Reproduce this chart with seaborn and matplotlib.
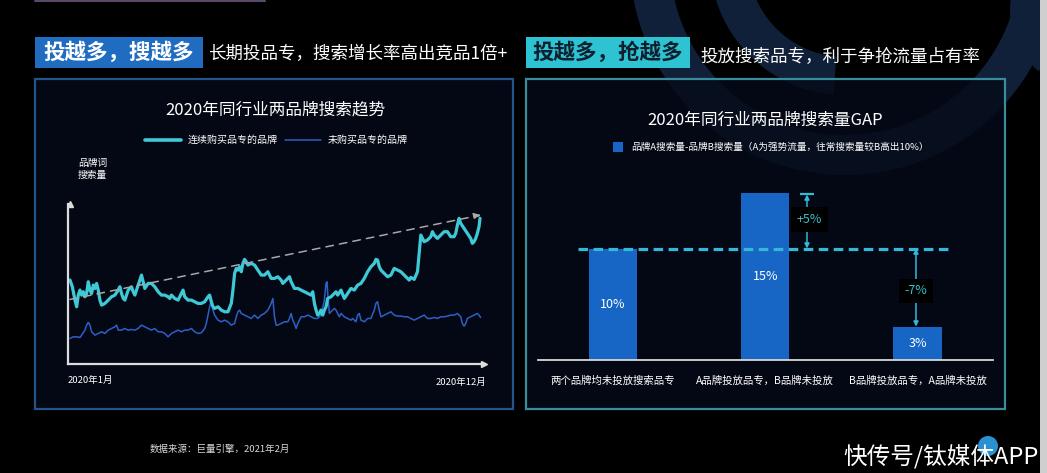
import matplotlib
matplotlib.use("Agg")
import matplotlib.pyplot as plt
from matplotlib.patches import Rectangle, Wedge, Circle
import pandas as pd
import seaborn as sns

sns.set_theme(style="dark")
plt.rcParams['font.family'] = ['Noto Sans CJK SC', 'DejaVu Sans']
plt.rcParams['axes.unicode_minus'] = False

W, H = 1047, 473

# ---------------- data ----------------
header_left_tag = "投越多，搜越多"
header_left_text = "长期投品专，搜索增长率高出竞品1倍+"
header_right_tag = "投越多，抢越多"
header_right_text = "投放搜索品专，利于争抢流量占有率"

line_title = "2020年同行业两品牌搜索趋势"
line_series_names = ["连续购买品专的品牌", "未购买品专的品牌"]
line_y_label = "品牌词\n搜索量"
line_x_labels = ["2020年1月", "2020年12月"]

# time (arbitrary units across 2020) and search volume (index)
cyan_t = [0, 7, 15, 20, 25, 30, 35, 40, 45, 50, 55, 60, 65, 70, 75, 80, 85, 90, 95, 105,
          115, 125, 135, 145, 150, 155, 160, 165, 170, 175, 185, 190, 195, 200, 205, 210, 215,
          220, 225, 235, 245, 255, 265, 275, 285, 295, 300, 305, 315, 325, 335, 340, 345, 355,
          365, 375, 385, 395, 405, 415, 420, 425, 430, 435, 445, 455, 465, 475, 485, 490, 495,
          500, 505, 510, 515, 520, 525, 530, 535, 545, 555, 565, 575, 585, 595, 605, 615, 625,
          635, 640, 645, 655, 660, 665, 675, 685, 695, 705, 715, 725, 730, 735, 740, 745, 750,
          755, 760, 765, 770, 775, 785, 795, 800, 805, 815, 825, 835, 845, 855, 865, 875, 885,
          895, 905, 915, 920, 925, 930, 935, 945, 955, 965, 975, 985, 995, 1005, 1015, 1020,
          1025, 1035, 1045, 1050, 1055, 1060, 1065, 1075, 1085, 1090, 1095, 1105, 1115, 1125,
          1135, 1145, 1155, 1160, 1165, 1170, 1175, 1185, 1195, 1205, 1210, 1215, 1220, 1225,
          1230, 1233]
cyan_v = [250, 230, 190, 170, 205, 220, 205, 215, 200, 210, 245, 220, 210, 235, 225, 240, 220,
          190, 175, 180, 190, 200, 205, 220, 230, 210, 195, 190, 205, 220, 230, 215, 205, 220,
          235, 250, 265, 245, 225, 240, 240, 230, 215, 205, 205, 200, 195, 205, 195, 190, 210,
          220, 200, 190, 190, 185, 180, 180, 185, 200, 205, 185, 170, 165, 170, 160, 155, 155,
          180, 220, 270, 285, 280, 290, 275, 300, 312, 305, 295, 300, 295, 280, 265, 265, 275,
          255, 255, 260, 250, 240, 245, 255, 260, 245, 225, 225, 220, 215, 210, 205, 215, 180,
          160, 145, 150, 160, 145, 160, 170, 195, 200, 210, 215, 205, 220, 195, 210, 225, 220,
          235, 240, 255, 275, 290, 300, 312, 310, 290, 280, 270, 260, 265, 285, 280, 275, 265,
          255, 250, 258, 252, 275, 330, 385, 375, 365, 370, 380, 395, 385, 375, 385, 395, 395,
          380, 380, 390, 415, 435, 420, 405, 390, 375, 360, 365, 375, 390, 410, 435]

blue_t = [0, 10, 20, 30, 35, 45, 50, 55, 60, 65, 75, 85, 95, 105, 115, 125, 135, 140, 145, 155,
          165, 175, 185, 195, 205, 215, 225, 235, 245, 255, 265, 275, 285, 295, 305, 315, 325,
          335, 345, 355, 365, 375, 385, 395, 405, 410, 415, 420, 425, 430, 435, 445, 455, 465,
          475, 485, 495, 500, 505, 510, 515, 525, 535, 545, 555, 565, 575, 585, 595, 605, 610,
          615, 620, 625, 635, 645, 655, 660, 665, 670, 675, 680, 685, 695, 705, 715, 725, 735,
          745, 755, 765, 770, 773, 775, 780, 785, 795, 800, 805, 810, 815, 825, 835, 845, 850,
          860, 865, 870, 875, 885, 895, 905, 915, 920, 925, 930, 935, 945, 955, 965, 975, 985,
          995, 1005, 1015, 1025, 1035, 1045, 1055, 1065, 1075, 1085, 1095, 1105, 1115, 1125,
          1135, 1145, 1155, 1165, 1175, 1180, 1185, 1190, 1195, 1205, 1215, 1225, 1230, 1235]
blue_v = [75, 80, 80, 78, 85, 100, 115, 123, 115, 95, 85, 90, 95, 90, 100, 105, 110, 115, 100,
          100, 105, 100, 102, 100, 105, 115, 110, 105, 100, 105, 95, 95, 90, 80, 90, 95, 100, 95,
          100, 100, 105, 95, 90, 92, 105, 120, 145, 170, 190, 160, 145, 130, 125, 130, 125, 115,
          120, 140, 155, 160, 150, 145, 140, 135, 145, 135, 145, 150, 160, 180, 195, 140, 115,
          115, 120, 125, 125, 135, 150, 130, 120, 105, 120, 140, 140, 145, 140, 135, 135, 145,
          190, 240, 245, 210, 150, 155, 165, 160, 150, 140, 150, 140, 135, 130, 135, 125, 145,
          150, 130, 125, 135, 135, 160, 180, 185, 160, 140, 145, 150, 155, 145, 142, 142, 140,
          140, 135, 130, 135, 140, 145, 135, 135, 138, 135, 140, 140, 142, 145, 145, 150, 140,
          120, 112, 120, 135, 140, 145, 150, 145, 138]

trend_t = [0, 1236]
trend_v = [192, 445]

bar_title = "2020年同行业两品牌搜索量GAP"
bar_legend = "品牌A搜索量-品牌B搜索量（A为强势流量，往常搜索量较B高出10%）"
bar_categories = ["两个品牌均未投放搜索品专", "A品牌投放品专，B品牌未投放", "B品牌投放品专，A品牌未投放"]
bar_values = [10, 15, 3]
bar_labels = ["10%", "15%", "3%"]
gap_labels = ["+5%", "-7%"]

footer_text = "数据来源：巨量引擎，2021年2月"
watermark = "快传号/钛媒体APP"

# ---------------- colors ----------------
BG = "#000000"
PANEL = (5 / 255, 11 / 255, 25 / 255, 0.82)
NAVY = "#102038"
C_CYAN = "#3ec9d6"
C_BLUE = "#2d5fc4"
C_BAR = "#1766c6"
C_DASH = "#35b7d5"

fig = plt.figure(figsize=(W / 100, H / 100), dpi=100, facecolor=BG)


def px_axes(l, t, r, b, z=1):
    a = fig.add_axes([l / W, 1 - b / H, (r - l) / W, (b - t) / H])
    a.set_zorder(z)
    return a


# background overlay (pixel coordinates)
bg = fig.add_axes([0, 0, 1, 1])
bg.set_zorder(0)
bg.set_xlim(0, W)
bg.set_ylim(H, 0)
bg.axis("off")
bg.set_facecolor(BG)

# decorative logo rings
bg.add_patch(Wedge((845, -40), 215, 0, 360, width=40, fc=NAVY, ec="none", zorder=0))
bg.add_patch(Wedge((845, -40), 135, 95, 215, width=38, fc=NAVY, ec="none", zorder=0))
bg.add_patch(Wedge((1090, 10), 80, 130, 230, width=28, fc=NAVY, ec="none", zorder=0))

# right edge strip
bg.add_patch(Rectangle((1040, 0), 7, H, fc="#cfcfcf", ec="none", zorder=1))

# top-left thin line
bg.plot([35, 265], [1, 1], color="#5a4a6a", lw=1.5, zorder=1)

# header tags
bg.add_patch(Rectangle((35, 37), 168, 31, fc="#1f6cc0", ec="none", zorder=2))
bg.text(119, 52.5, header_left_tag, color="white", fontsize=15.5, fontweight="bold",
        ha="center", va="center", zorder=3)
bg.text(208, 54, header_left_text, color="white", fontsize=12.6, ha="left", va="center", zorder=3)
bg.add_patch(Rectangle((526, 37), 164, 31, fc="#2dc3d2", ec="none", zorder=2))
bg.text(608, 52.5, header_right_tag, color="#0f1f2e", fontsize=15.5, fontweight="bold",
        ha="center", va="center", zorder=3)
bg.text(700, 57, header_right_text, color="white", fontsize=12.6, ha="left", va="center", zorder=3)

# panels
bg.add_patch(Rectangle((35, 79), 478, 330, fc=PANEL, ec="#24548a", lw=1.6, zorder=2))
bg.add_patch(Rectangle((526, 79), 479, 330, fc=PANEL, ec="#3a8c9c", lw=1.6, zorder=2))

# left panel texts
bg.text(275, 110, line_title, color="white", fontsize=12, ha="center", va="center", zorder=3)
bg.plot([145, 181], [140, 140], color=C_CYAN, lw=2.6, zorder=3)
bg.text(188, 140, line_series_names[0], color="white", fontsize=7.2, ha="left", va="center", zorder=3)
bg.plot([285, 321], [140, 140], color=C_BLUE, lw=1.1, zorder=3)
bg.text(328, 140, line_series_names[1], color="white", fontsize=7.2, ha="left", va="center", zorder=3)
bg.text(78, 169, line_y_label, color="white", fontsize=7, ha="left", va="center",
        linespacing=1.2, zorder=3)
bg.text(68, 380, line_x_labels[0], color="white", fontsize=6.8, ha="left", va="center", zorder=3)
bg.text(486, 382, line_x_labels[1], color="white", fontsize=6.8, ha="right", va="center", zorder=3)

# right panel texts
bg.text(765, 120, bar_title, color="white", fontsize=12, ha="center", va="center", zorder=3)
bg.add_patch(Rectangle((613, 142), 10, 10, fc=C_BAR, ec="none", zorder=3))
bg.text(631, 147, bar_legend, color="white", fontsize=6.9, ha="left", va="center", zorder=3)

# footer
bg.text(150, 449, footer_text, color="#d8d8d8", fontsize=6.8, ha="left", va="center", zorder=3)

# ---------------- line chart ----------------
ax1 = px_axes(68, 204, 484, 363.5, z=2)
ax1.set_facecolor("none")
df_a = pd.DataFrame({"t": cyan_t, "v": cyan_v})
df_b = pd.DataFrame({"t": blue_t, "v": blue_v})
sns.lineplot(data=df_b, x="t", y="v", ax=ax1, color=C_BLUE, lw=1.1, estimator=None)
sns.lineplot(data=df_a, x="t", y="v", ax=ax1, color=C_CYAN, lw=2.3, estimator=None)
ax1.annotate("", xy=(trend_t[1], trend_v[1]), xytext=(trend_t[0], trend_v[0]),
             arrowprops=dict(arrowstyle="-|>", color="#a8a8a8", lw=1.1, linestyle=(0, (5, 4)),
                             mutation_scale=10, shrinkA=0, shrinkB=0))
ax1.set_xlim(-6, 1245)
ax1.set_ylim(0, 478)
ax1.set_xticks([])
ax1.set_yticks([])
ax1.set_xlabel("")
ax1.set_ylabel("")
ax1.grid(False)
for s in ["top", "right"]:
    ax1.spines[s].set_visible(False)
for s in ["left", "bottom"]:
    ax1.spines[s].set_visible(True)
    ax1.spines[s].set_color("#dcdcdc")
    ax1.spines[s].set_linewidth(1.6)
ax1.plot(1, 0, ">", color="#dcdcdc", ms=5, transform=ax1.get_yaxis_transform(), clip_on=False)
ax1.plot(0, 1, "^", color="#dcdcdc", ms=5, transform=ax1.get_xaxis_transform(), clip_on=False)

# ---------------- bar chart ----------------
ax2 = px_axes(538, 185, 993, 360, z=2)
ax2.set_facecolor("none")
df_bar = pd.DataFrame({"cat": bar_categories, "val": bar_values})
sns.barplot(data=df_bar, x="cat", y="val", ax=ax2, color=C_BAR, saturation=1, width=0.316,
            order=bar_categories, edgecolor="none", linewidth=0)
ax2.set_xlim(-0.493, 2.496)
ax2.set_ylim(0, 15.7)
ax2.set_xlabel("")
ax2.set_ylabel("")
ax2.set_yticks([])
ax2.grid(False)
for s in ["top", "right", "left"]:
    ax2.spines[s].set_visible(False)
ax2.spines["bottom"].set_visible(True)
ax2.spines["bottom"].set_color("#d8d8d8")
ax2.spines["bottom"].set_linewidth(1.3)
ax2.tick_params(axis="x", length=0, pad=11, colors="white", labelsize=7.5)

for i, (v, lab) in enumerate(zip(bar_values, bar_labels)):
    ax2.text(i, v / 2, lab, color="white", fontsize=9, ha="center", va="center", zorder=5)

# baseline (value of first category) dashed reference
ax2.hlines(bar_values[0], -0.23, 2.213, colors=C_DASH, lw=2.3, linestyles=[(0, (3, 1.7))], zorder=4)

# gap arrows
x_up = 1.274
ax2.annotate("", xy=(x_up, bar_values[1] - 0.15), xytext=(x_up, bar_values[0]),
             arrowprops=dict(arrowstyle="<|-|>", color=C_DASH, lw=1.1, mutation_scale=7,
                             shrinkA=0, shrinkB=0), zorder=5)
ax2.hlines(bar_values[1] - 0.15, x_up - 0.045, x_up + 0.045, colors=C_DASH, lw=1.6, zorder=5)
ax2.text(x_up + 0.015, 12.6, gap_labels[0], color="#3cc0c8", fontsize=9, ha="center", va="center",
         zorder=6, bbox=dict(boxstyle="square,pad=0.45", fc="black", ec="none"))

x_dn = 1.99
ax2.annotate("", xy=(x_dn, bar_values[2]), xytext=(x_dn, bar_values[0]),
             arrowprops=dict(arrowstyle="<|-|>", color=C_DASH, lw=1.1, mutation_scale=7,
                             shrinkA=0, shrinkB=0), zorder=5)
ax2.text(x_dn, 6.2, gap_labels[1], color="#3cc0c8", fontsize=9, ha="center", va="center",
         zorder=6, bbox=dict(boxstyle="square,pad=0.45", fc="black", ec="none"))

# ---------------- top overlay (watermark) ----------------
top = fig.add_axes([0, 0, 1, 1])
top.set_zorder(10)
top.set_xlim(0, W)
top.set_ylim(H, 0)
top.axis("off")
top.patch.set_alpha(0)
top.add_patch(Circle((988, 446), 10, fc="#2a90d0", ec="none", zorder=1))
top.text(843, 457, watermark, color="white", fontsize=17, ha="left", va="center", zorder=2)

fig.savefig("out.png", dpi=100, facecolor=BG)
